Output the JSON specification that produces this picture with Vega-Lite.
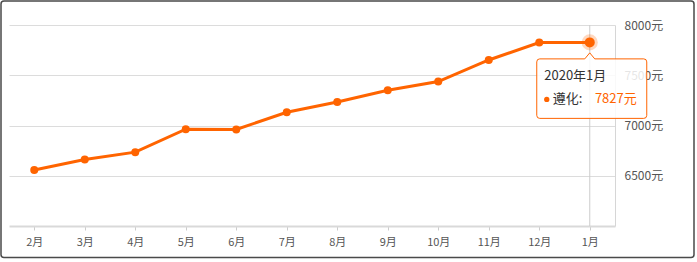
{
  "$schema": "https://vega.github.io/schema/vega-lite/v6.json",
  "width": 606,
  "height": 201,
  "autosize": {"type": "none"},
  "padding": {"left": 9, "top": 25, "right": 82, "bottom": 36},
  "background": "white",
  "config": {
    "view": {"stroke": null},
    "font": "Noto Sans CJK SC"
  },
  "data": {
    "values": [
      {"month": "2月", "period": "2019年2月", "city": "遵化", "price": 6558},
      {"month": "3月", "period": "2019年3月", "city": "遵化", "price": 6662},
      {"month": "4月", "period": "2019年4月", "city": "遵化", "price": 6735},
      {"month": "5月", "period": "2019年5月", "city": "遵化", "price": 6963},
      {"month": "6月", "period": "2019年6月", "city": "遵化", "price": 6960},
      {"month": "7月", "period": "2019年7月", "city": "遵化", "price": 7132},
      {"month": "8月", "period": "2019年8月", "city": "遵化", "price": 7234},
      {"month": "9月", "period": "2019年9月", "city": "遵化", "price": 7351},
      {"month": "10月", "period": "2019年10月", "city": "遵化", "price": 7437},
      {"month": "11月", "period": "2019年11月", "city": "遵化", "price": 7652},
      {"month": "12月", "period": "2019年12月", "city": "遵化", "price": 7825},
      {"month": "1月", "period": "2020年1月", "city": "遵化", "price": 7827}
    ]
  },
  "encoding": {
    "x": {
      "field": "month",
      "type": "ordinal",
      "sort": ["2月", "3月", "4月", "5月", "6月", "7月", "8月", "9月", "10月", "11月", "12月", "1月"],
      "scale": {"type": "point", "padding": 0.5},
      "axis": {
        "title": null,
        "labelAngle": 0,
        "grid": false,
        "domainColor": "#d9d9d9",
        "domainWidth": 2,
        "tickColor": "#cccccc",
        "tickSize": 4,
        "labelColor": "#555555",
        "labelFontSize": 11,
        "labelPadding": 6
      }
    }
  },
  "layer": [
    {
      "data": {"values": [{"frame": 1}]},
      "mark": {"type": "rect", "fill": "transparent", "stroke": "#4a4a4a", "strokeWidth": 1.5, "cornerRadius": 3},
      "encoding": {
        "x": {"value": -8},
        "x2": {"value": 685},
        "y": {"value": -24},
        "y2": {"value": 232.5}
      }
    },
    {
      "transform": [{"filter": "datum.month === '1月'"}],
      "mark": {"type": "rule", "color": "#cccccc", "strokeWidth": 1},
      "encoding": {}
    },
    {
      "mark": {"type": "line", "color": "#ff6400", "strokeWidth": 3},
      "encoding": {
        "y": {
          "field": "price",
          "type": "quantitative",
          "scale": {"domain": [6000, 8000], "nice": false, "zero": false},
          "axis": {
            "title": null,
            "orient": "right",
            "values": [6500, 7000, 7500, 8000],
            "labelExpr": "datum.value + '元'",
            "ticks": false,
            "domainColor": "#d6d6d6",
            "gridColor": "#dcdcdc",
            "labelColor": "#555555",
            "labelFontSize": 12,
            "labelPadding": 9
          }
        }
      }
    },
    {
      "mark": {"type": "circle", "color": "#ff6400", "size": 64, "opacity": 1},
      "encoding": {"y": {"field": "price", "type": "quantitative"}}
    },
    {
      "transform": [{"filter": "datum.month === '1月'"}],
      "layer": [
        {
          "mark": {"type": "circle", "color": "#ff6400", "size": 260, "opacity": 0.25},
          "encoding": {"y": {"field": "price", "type": "quantitative"}}
        },
        {
          "mark": {"type": "circle", "color": "#ff6400", "size": 100, "opacity": 1},
          "encoding": {"y": {"field": "price", "type": "quantitative"}}
        },
        {
          "mark": {
            "type": "point",
            "shape": "M-50,16.5 H-5 L0,10.5 L5,16.5 H54 Q57,16.5 57,19.5 V73 Q57,76 54,76 H-50 Q-53,76 -53,73 V19.5 Q-53,16.5 -50,16.5 Z",
            "size": 4,
            "filled": true,
            "fill": "white",
            "fillOpacity": 0.85,
            "stroke": "#ff6400",
            "strokeWidth": 1,
            "opacity": 1
          },
          "encoding": {"y": {"field": "price", "type": "quantitative"}}
        },
        {
          "mark": {"type": "text", "align": "left", "baseline": "middle", "dx": -45.5, "dy": 33.5, "fontSize": 13, "color": "#333333"},
          "encoding": {
            "y": {"field": "price", "type": "quantitative"},
            "text": {"field": "period"}
          }
        },
        {
          "mark": {"type": "circle", "color": "#ff6400", "size": 28, "opacity": 1, "xOffset": -43, "yOffset": 57},
          "encoding": {"y": {"field": "price", "type": "quantitative"}}
        },
        {
          "transform": [{"calculate": "datum.city + ':'", "as": "cityLabel"}],
          "mark": {"type": "text", "align": "left", "baseline": "middle", "dx": -37, "dy": 57, "fontSize": 13, "color": "#333333"},
          "encoding": {
            "y": {"field": "price", "type": "quantitative"},
            "text": {"field": "cityLabel"}
          }
        },
        {
          "transform": [{"calculate": "datum.price + '元'", "as": "priceLabel"}],
          "mark": {"type": "text", "align": "right", "baseline": "middle", "dx": 47, "dy": 57, "fontSize": 13, "color": "#ff6400"},
          "encoding": {
            "y": {"field": "price", "type": "quantitative"},
            "text": {"field": "priceLabel"}
          }
        }
      ]
    }
  ]
}
